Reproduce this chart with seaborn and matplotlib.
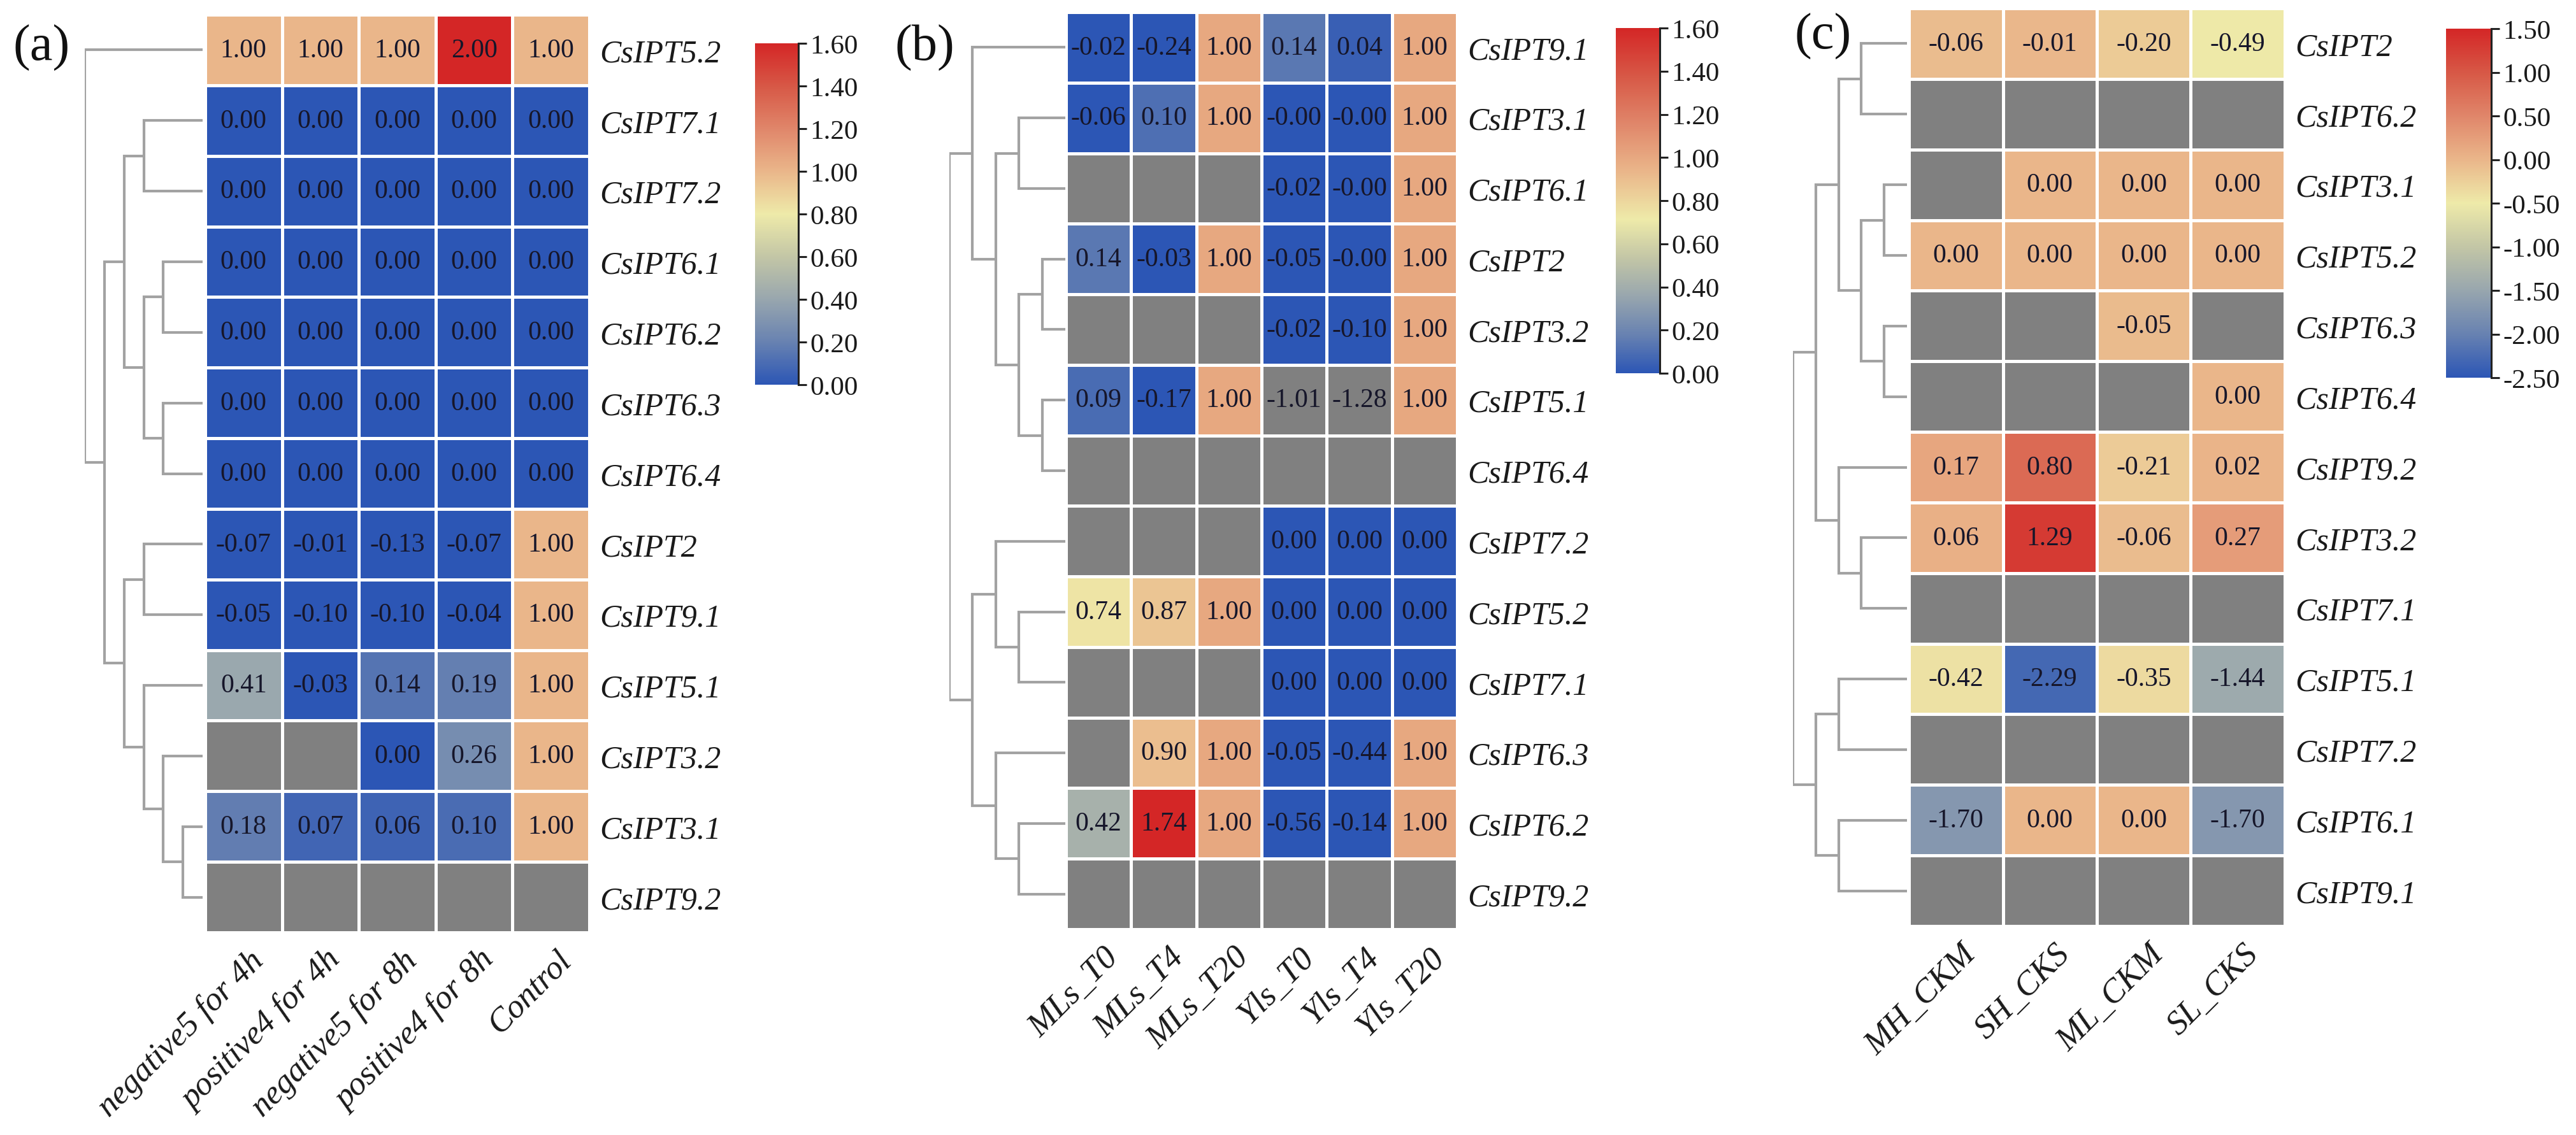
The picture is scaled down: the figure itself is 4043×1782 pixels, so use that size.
import numpy as np
import pandas as pd
import matplotlib
matplotlib.use("Agg")
import matplotlib.pyplot as plt
import seaborn as sns
from matplotlib.colors import LinearSegmentedColormap
from matplotlib.transforms import ScaledTranslation

sns.set_theme(style="white")
plt.rcParams["font.family"] = ["Liberation Serif", "DejaVu Serif"]
plt.rcParams["axes.unicode_minus"] = False

nan = np.nan

# ---------------- Panel (a) ----------------
genes_a = ["CsIPT5.2", "CsIPT7.1", "CsIPT7.2", "CsIPT6.1", "CsIPT6.2", "CsIPT6.3",
           "CsIPT6.4", "CsIPT2", "CsIPT9.1", "CsIPT5.1", "CsIPT3.2", "CsIPT3.1", "CsIPT9.2"]
conds_a = ["negative5 for 4h", "positive4 for 4h", "negative5 for 8h",
           "positive4 for 8h", "Control"]
vals_a = [
    [1.00, 1.00, 1.00, 2.00, 1.00],
    [0.00, 0.00, 0.00, 0.00, 0.00],
    [0.00, 0.00, 0.00, 0.00, 0.00],
    [0.00, 0.00, 0.00, 0.00, 0.00],
    [0.00, 0.00, 0.00, 0.00, 0.00],
    [0.00, 0.00, 0.00, 0.00, 0.00],
    [0.00, 0.00, 0.00, 0.00, 0.00],
    [-0.07, -0.01, -0.13, -0.07, 1.00],
    [-0.05, -0.10, -0.10, -0.04, 1.00],
    [0.41, -0.03, 0.14, 0.19, 1.00],
    [nan, nan, 0.00, 0.26, 1.00],
    [0.18, 0.07, 0.06, 0.10, 1.00],
    [nan, nan, nan, nan, nan],
]
# dendrogram: (height, left, right); ints are row indices
tree_a = (6, 0, (5, (4, (3, 1, 2), (3, (2, 3, 4), (2, 5, 6))),
                 (4, (3, 7, 8), (3, 9, (2, 10, (1, 11, 12))))))
range_a = (0.0, 1.6)
ticks_a = [0.00, 0.20, 0.40, 0.60, 0.80, 1.00, 1.20, 1.40, 1.60]

# ---------------- Panel (b) ----------------
genes_b = ["CsIPT9.1", "CsIPT3.1", "CsIPT6.1", "CsIPT2", "CsIPT3.2", "CsIPT5.1",
           "CsIPT6.4", "CsIPT7.2", "CsIPT5.2", "CsIPT7.1", "CsIPT6.3", "CsIPT6.2", "CsIPT9.2"]
conds_b = ["MLs_T0", "MLs_T4", "MLs_T20", "Yls_T0", "Yls_T4", "Yls_T20"]
vals_b = [
    [-0.02, -0.24, 1.00, 0.14, 0.04, 1.00],
    [-0.06, 0.10, 1.00, -0.001, -0.001, 1.00],
    [nan, nan, nan, -0.02, -0.001, 1.00],
    [0.14, -0.03, 1.00, -0.05, -0.001, 1.00],
    [nan, nan, nan, -0.02, -0.10, 1.00],
    [0.09, -0.17, 1.00, -1.01, -1.28, 1.00],
    [nan, nan, nan, nan, nan, nan],
    [nan, nan, nan, 0.00, 0.00, 0.00],
    [0.74, 0.87, 1.00, 0.00, 0.00, 0.00],
    [nan, nan, nan, 0.00, 0.00, 0.00],
    [nan, 0.90, 1.00, -0.05, -0.44, 1.00],
    [0.42, 1.74, 1.00, -0.56, -0.14, 1.00],
    [nan, nan, nan, nan, nan, nan],
]
tree_b = (5, (4, 0, (3, (2, 1, 2), (2, (1, 3, 4), (1, 5, 6)))),
          (4, (3, 7, (2, 8, 9)), (3, 10, (2, 11, 12))))
range_b = (0.0, 1.6)
ticks_b = [0.00, 0.20, 0.40, 0.60, 0.80, 1.00, 1.20, 1.40, 1.60]
gray_below_b = -1.0   # values below this are shown as grey cells

# ---------------- Panel (c) ----------------
genes_c = ["CsIPT2", "CsIPT6.2", "CsIPT3.1", "CsIPT5.2", "CsIPT6.3", "CsIPT6.4",
           "CsIPT9.2", "CsIPT3.2", "CsIPT7.1", "CsIPT5.1", "CsIPT7.2", "CsIPT6.1", "CsIPT9.1"]
conds_c = ["MH_CKM", "SH_CKS", "ML_CKM", "SL_CKS"]
vals_c = [
    [-0.06, -0.01, -0.20, -0.49],
    [nan, nan, nan, nan],
    [nan, 0.00, 0.00, 0.00],
    [0.00, 0.00, 0.00, 0.00],
    [nan, nan, -0.05, nan],
    [nan, nan, nan, 0.00],
    [0.17, 0.80, -0.21, 0.02],
    [0.06, 1.29, -0.06, 0.27],
    [nan, nan, nan, nan],
    [-0.42, -2.29, -0.35, -1.44],
    [nan, nan, nan, nan],
    [-1.70, 0.00, 0.00, -1.70],
    [nan, nan, nan, nan],
]
tree_c = (5, (4, (3, (2, 0, 1), (2, (1, 2, 3), (1, 4, 5))), (3, 6, (2, 7, 8))),
          (4, (3, 9, 10), (3, 11, 12)))
range_c = (-2.5, 1.5)
ticks_c = [1.50, 1.00, 0.50, 0.00, -0.50, -1.00, -1.50, -2.00, -2.50]

# ---------------- styling ----------------
W, H = 4043, 1783
DPI = 100
low_cols = ["#2c56b5", "#6882b1", "#98a6ae", "#c3c6a6", "#eeeaa9"]
high_cols = ["#eeeaa9", "#eab68a", "#e0866a", "#d75846", "#d42626"]
NAN_COL = "#808080"
TXT_COL = "#16162a"
LINE_COL = "#a2a2a2"


def make_cmap(center):
    nodes = []
    for k, c in enumerate(low_cols):
        nodes.append((center * k / 4, c))
    for k, c in enumerate(high_cols[1:], start=1):
        nodes.append((center + (1 - center) * k / 4, c))
    cm = LinearSegmentedColormap.from_list("ipt", nodes, N=512)
    cm.set_bad(NAN_COL)
    return cm


def rect(x0, y0, x1, y1):
    return [x0 / W, 1 - y1 / H, (x1 - x0) / W, (y1 - y0) / H]


def draw_tree(ax, node):
    if isinstance(node, int):
        return node + 0.5, 0.0
    h, left, right = node
    yl, hl = draw_tree(ax, left)
    yr, hr = draw_tree(ax, right)
    ax.plot([hl, h, h, hr], [yl, yl, yr, yr], color=LINE_COL, lw=3.0,
            solid_capstyle="butt", solid_joinstyle="miter")
    return (yl + yr) / 2, h


fig = plt.figure(figsize=(W / DPI, H / DPI), dpi=DPI)
fig.patch.set_facecolor("white")

panels = [
    dict(genes=genes_a, conds=conds_a, vals=vals_a, tree=tree_a, rng=range_a,
         ticks=ticks_a, center=0.5, gray_below=None,
         hm=(322, 24, 925, 1465), dend=(133, 318), cb=(1185, 69, 1253, 605),
         label="(a)", lab_xy=(20, 75)),
    dict(genes=genes_b, conds=conds_b, vals=vals_b, tree=tree_b, rng=range_b,
         ticks=ticks_b, center=0.446, gray_below=gray_below_b,
         hm=(1673, 20, 2287, 1460), dend=(1490, 1672), cb=(2536, 45, 2605, 587),
         label="(b)", lab_xy=(1404, 75)),
    dict(genes=genes_c, conds=conds_c, vals=vals_c, tree=tree_c, rng=range_c,
         ticks=ticks_c, center=0.5, gray_below=None,
         hm=(2996, 14, 3586, 1455), dend=(2814, 2993), cb=(3839, 46, 3910, 594),
         label="(c)", lab_xy=(2816, 57)),
]

xshift = ScaledTranslation(24 / DPI, 0, fig.dpi_scale_trans)

for p in panels:
    x0, y0, x1, y1 = p["hm"]
    ax = fig.add_axes(rect(x0, y0, x1, y1))
    cax = fig.add_axes(rect(*p["cb"]))
    dax = fig.add_axes(rect(p["dend"][0], y0, p["dend"][1], y1))

    raw = pd.DataFrame(p["vals"], index=p["genes"], columns=p["conds"])
    shown = raw.copy()
    if p["gray_below"] is not None:
        shown = shown.mask(shown < p["gray_below"])
    annot = raw.map(lambda v: "" if pd.isna(v) else f"{v:.2f}")

    sns.heatmap(shown, ax=ax, cmap=make_cmap(p["center"]), vmin=p["rng"][0],
                vmax=p["rng"][1], annot=annot.values, fmt="", linewidths=2.5,
                linecolor="white", cbar_ax=cax,
                cbar_kws=dict(ticks=p["ticks"]),
                annot_kws=dict(fontsize=30, color=TXT_COL))
    ax.set_facecolor(NAN_COL)
    nr, nc = raw.shape
    for i in range(1, nr):
        ax.axhline(i, color="white", lw=2.5)
    for j in range(1, nc):
        ax.axvline(j, color="white", lw=2.5)
    # annotate cells that are outside the colour range (drawn grey)
    for i in range(nr):
        for j in range(nc):
            v = raw.iat[i, j]
            if not pd.isna(v) and pd.isna(shown.iat[i, j]):
                ax.text(j + 0.5, i + 0.5, f"{v:.2f}", ha="center", va="center",
                        fontsize=30, color=TXT_COL)

    ax.yaxis.tick_right()
    ax.set_yticks(np.arange(nr) + 0.5)
    ax.set_yticklabels(p["genes"], rotation=0, fontstyle="italic", fontsize=36,
                       color="#1a1a1a")
    ax.tick_params(axis="y", length=0, pad=12, labelright=True, labelleft=False)
    ax.set_xticks(np.arange(nc) + 0.5)
    ax.tick_params(axis="x", length=0, pad=26)
    ax.set_xticklabels(p["conds"], rotation=45, ha="right", va="center",
                       rotation_mode="anchor", fontstyle="italic", fontsize=38,
                       color="#1a1a1a")
    for lab in ax.get_xticklabels():
        lab.set_transform(lab.get_transform() + xshift)
    ax.set_xlabel("")
    ax.set_ylabel("")

    # colour bar
    cb = ax.collections[0].colorbar
    cb.outline.set_visible(False)
    cax.spines["right"].set_visible(True)
    cax.spines["right"].set_color("#222222")
    cax.spines["right"].set_linewidth(2.2)
    cb.set_ticks(p["ticks"])
    cb.set_ticklabels([f"{t:.2f}" for t in p["ticks"]])
    cax.tick_params(axis="y", length=9, width=2.2, color="#222222", labelsize=31,
                    pad=4, labelcolor="#1a1a1a")

    # dendrogram
    draw_tree(dax, p["tree"])
    dax.set_xlim(p["tree"][0], 0)
    dax.set_ylim(nr, 0)
    dax.axis("off")

    fig.text(p["lab_xy"][0] / W, 1 - p["lab_xy"][1] / H, p["label"], ha="left",
             va="center", fontsize=58, color="#111111")

fig.savefig("out.png", dpi=DPI, facecolor="white")
